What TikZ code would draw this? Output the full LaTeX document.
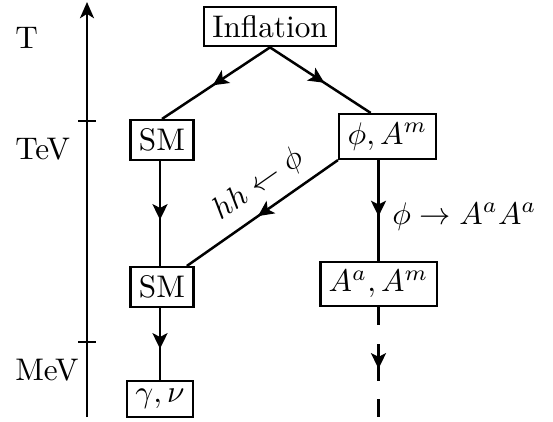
\documentclass[tikz,border=0pt]{standalone}
\usetikzlibrary{arrows.meta,decorations.markings,calc}
\begin{document}
\begin{tikzpicture}[x=0.32pt,y=-0.32pt, line width=0.8pt,
  box/.style={draw, inner sep=2.7pt, line width=0.8pt},
  midarrow/.style={postaction={decorate}, decoration={markings,
    mark=at position #1 with {\arrow{Stealth[length=5pt,width=4.8pt,inset=1.2pt]}}}},
  lab/.style={anchor=base west, inner sep=0pt}]
\useasboundingbox (0,0) rectangle (553,421);
% energy axis
\coordinate (ab) at (87,417);
\coordinate (at) at (87,2);
\draw[-{Stealth[length=5.2pt,width=4.5pt,inset=1.4pt]}] (ab) -- (at);
\coordinate (t1a) at (78,121); \coordinate (t1b) at (96,121);
\coordinate (t2a) at (78,342); \coordinate (t2b) at (96,342);
\draw (t1a) -- (t1b);
\draw (t2a) -- (t2b);
\node[lab] (T) at (14,48) {T};
\node[lab] (tev) at (14,159) {TeV};
\node[lab] (mev) at (14,380) {MeV};
% boxes
\node[box] (inf) at (270,26.5) {Inflation};
\node[box] (sm1) at (162,140) {SM};
\node[box] (phi) at (387.5,136.5) {$\phi, A^m$};
\node[box] (sm2) at (162,287) {SM};
\node[box] (an) at (378.5,284) {$A^a, A^m$};
\node[box] (gn) at (160,399) {$\gamma, \nu$};
% connectors
\draw[midarrow=0.53] (inf.south) -- (sm1.north);
\draw[midarrow=0.54] (inf.south) -- ($(phi.north west)!0.33!(phi.north east)$);
\draw[midarrow=0.56] (sm1.south -| gn.north) -- (sm2.north -| gn.north);
\draw[midarrow=0.56] (an.north |- phi.south) -- node[pos=0.56, right, inner sep=4pt] {$\phi \rightarrow A^aA^a$} (an.north);
\draw[midarrow=0.53] (phi.south west) -- node[pos=0.43, sloped, above] {$hh \leftarrow \phi$} ($(sm2.north west)!0.88!(sm2.north east)$);
\draw[midarrow=0.57] (sm2.south -| gn.north) -- (gn.north);
\coordinate (dend) at (378.5,417);
\draw[dash pattern=on 5.76pt off 6.08pt on 11.84pt off 5.76pt on 6.08pt] (an.south) -- (dend);
\path[midarrow=0.56] (an.south) -- (dend);
\end{tikzpicture}
\end{document}
